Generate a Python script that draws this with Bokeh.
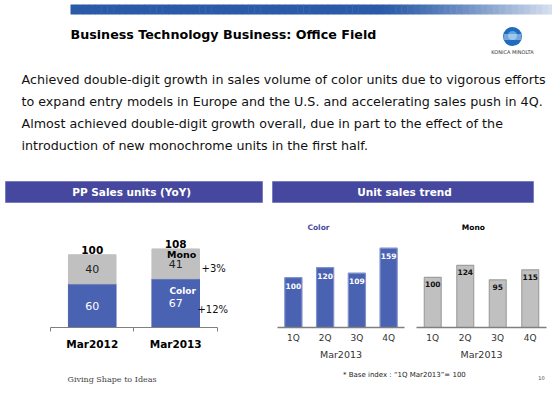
from bokeh.plotting import figure
from bokeh.layouts import column, row
from bokeh.models import (Range1d, FactorRange, ColumnDataSource, LinearAxis,
                          CategoricalAxis, FixedTicker, Label)
from bokeh.core.properties import value
from bokeh.embed import file_html
from bokeh.resources import INLINE

# ---------------- data ----------------
slide_title = "Business Technology Business: Office Field"
summary_lines = [
    "Achieved double-digit growth in sales volume of color units due to vigorous efforts",
    "to expand entry models in Europe and the U.S. and accelerating sales push in 4Q.",
    "Almost achieved double-digit growth overall, due in part to the effect of the",
    "introduction of new monochrome units in the first half.",
]
left_header = "PP  Sales units (YoY)"
right_header = "Unit sales trend"

years = ["Mar2012", "Mar2013"]
color_units = [60, 67]
mono_units = [40, 41]
total_units = [100, 108]
color_growth = "+12%"
mono_growth = "+3%"

quarters = ["1Q", "2Q", "3Q", "4Q"]
period_label = "Mar2013"
color_trend = [100, 120, 109, 159]
mono_trend = [100, 124, 95, 115]

footer_slogan = "Giving Shape to Ideas"
footer_note = "* Base index :  \u201c1Q Mar2013\u201d= 100"
page_number = "10"
logo_text = "KONICA MINOLTA"

# ---------------- styles ----------------
FONT = "DejaVu Sans"
BLUE = "#4A62B2"
GRAY = "#C0C0C0"
HEADER = "#46479E"


def clean(p):
    p.outline_line_color = None
    p.grid.visible = False
    p.background_fill_color = "white"
    p.border_fill_color = "white"
    return p


def txt(p, x, y, s, size, color="#111111", bold=False, align="left", font=FONT, **kw):
    p.text(x=[x], y=[y], text=[s], text_font=value(font), text_font_size=size,
           text_color=color, text_font_style="bold" if bold else "normal",
           text_align=align, text_baseline="middle", **kw)


# ---------------- header (slide text) ----------------
hdr = clean(figure(width=552, height=210, x_range=Range1d(0, 552), y_range=Range1d(210, 0),
                   x_axis_location=None, y_axis_location=None, output_backend="svg",
                   toolbar_location=None, min_border=0))

# gradient top bar
n = 80
x0, x1 = 70.0, 560.0
lefts, rights, cols = [], [], []
c_dark = (0x2B, 0x5B, 0xA8)
c_light = (0xE6, 0xEC, 0xF6)
for i in range(n):
    a = x0 + (x1 - x0) * i / n
    b = x0 + (x1 - x0) * (i + 1) / n
    t = (a - x0) / (x1 - x0)
    f = 0.0 if t < 0.62 else ((t - 0.62) / 0.38) ** 1.3
    c = tuple(int(c_dark[k] + (c_light[k] - c_dark[k]) * f) for k in range(3))
    lefts.append(a); rights.append(b + 0.5); cols.append("#%02x%02x%02x" % c)
hdr.quad(left=lefts, right=rights, top=4, bottom=14, fill_color=cols, line_color=None)

txt(hdr, 70, 34, slide_title, "12.7px", color="#000000", bold=True)

# logo
hdr.scatter(x=[512], y=[36], size=19, fill_color="#1E6BC0", line_color=None)
hdr.scatter(x=[512], y=[35], size=9, fill_color="#5FA3E3", line_color=None)
for dy, hw in [(-1.5, 8.6), (0.5, 8.8), (2.5, 8.4)]:
    hdr.segment(x0=[512 - hw], y0=[36 + dy], x1=[512 + hw], y1=[36 + dy],
                line_color="white", line_width=0.8)
txt(hdr, 512, 51, logo_text, "5px", color="#333333", align="center")

# summary paragraph
for i, line in enumerate(summary_lines):
    txt(hdr, 21, 79 + 22 * i, line, "12.7px", color="#111111")

# section header bars
hdr.quad(left=[5, 272], right=[262, 533], top=181, bottom=202,
         fill_color=HEADER, line_color="#7A7CC0", line_width=1)
txt(hdr, 133, 191.5, left_header, "10.5px", color="white", bold=True, align="center")
txt(hdr, 404, 191.5, right_header, "10.5px", color="white", bold=True, align="center")

# ---------------- left chart: PP sales units ----------------
pos = [i + 0.5 for i in range(len(years))]          # category centres on a numeric scale
src = ColumnDataSource(dict(
    x=pos, color=color_units, mono=mono_units, total=total_units,
    total_str=[str(v) for v in total_units],
    color_str=[str(v) for v in color_units],
    mono_str=[str(v) for v in mono_units],
    color_mid=[c / 2 for c in color_units],
    mono_mid=[c + m / 2 for c, m in zip(color_units, mono_units)],
))

lc = clean(figure(width=272, height=152, x_range=Range1d(0, len(years) + 0.3),
                  y_range=Range1d(0, 160.8), x_axis_location=None, y_axis_location=None,
                  output_backend="svg", toolbar_location=None, min_border=0,
                  min_border_left=50, min_border_right=30, min_border_top=0,
                  min_border_bottom=33))
lc.vbar_stack(["color", "mono"], x="x", width=0.57, source=src,
              fill_color=[BLUE, GRAY], line_color=[BLUE, GRAY])

lc.text(x="x", y="total", text="total_str", source=src, y_offset=-5,
        text_font=value(FONT), text_font_size="10.5px", text_font_style="bold",
        text_color="#000000", text_align="center", text_baseline="middle")
lc.text(x="x", y="mono_mid", text="mono_str", source=src,
        text_font=value(FONT), text_font_size="11px", text_color="#222222",
        text_align="center", text_baseline="middle")
lc.text(x="x", y="color_mid", text="color_str", source=src,
        text_font=value(FONT), text_font_size="11px", text_color="white",
        text_align="center", text_baseline="middle")

last = pos[-1]
lc.text(x=[last], y=[total_units[-1]], text=["Mono"], x_offset=6, y_offset=6,
        text_font=value(FONT), text_font_size="9.5px", text_font_style="bold",
        text_color="#000000", text_align="center", text_baseline="middle")
lc.text(x=[last], y=[color_units[-1]], text=["Color"], x_offset=7, y_offset=12,
        text_font=value(FONT), text_font_size="9px", text_font_style="bold",
        text_color="white", text_align="center", text_baseline="middle")
lc.text(x=[last], y=[color_units[-1] + mono_units[-1] / 2], text=[mono_growth],
        x_offset=38, y_offset=5, text_font=value(FONT), text_font_size="10px",
        text_color="#111111", text_align="center", text_baseline="middle")
lc.text(x=[last], y=[color_units[-1] / 2], text=[color_growth],
        x_offset=37, y_offset=6, text_font=value(FONT), text_font_size="10px",
        text_color="#111111", text_align="center", text_baseline="middle")

cat_axis = LinearAxis(ticker=FixedTicker(ticks=pos, minor_ticks=list(range(len(years) + 1))),
                      bounds=(0, len(years)),
                      major_label_overrides={p_: y_ for p_, y_ in zip(pos, years)},
                      axis_line_color="#7F7F7F", major_tick_line_color=None,
                      major_tick_in=0, major_tick_out=0,
                      minor_tick_line_color="#7F7F7F", minor_tick_in=0, minor_tick_out=4,
                      major_label_text_font=FONT, major_label_text_font_size="10.5px",
                      major_label_text_font_style="bold", major_label_text_color="#000000",
                      major_label_standoff=6)
lc.add_layout(cat_axis, "below")


# ---------------- trend charts ----------------
def trend_chart(width, left, right, bottom, ymax, vals, fill, line, lab_color, lab_off,
                title, title_color, title_x, title_y, bar_w):
    s = ColumnDataSource(dict(q=quarters, v=vals, s=[str(v) for v in vals]))
    p = clean(figure(width=width, height=152, x_range=FactorRange(*quarters, range_padding=0),
                     y_range=Range1d(0, ymax), x_axis_location=None, y_axis_location=None,
                     output_backend="svg", toolbar_location=None, min_border=0,
                     min_border_left=left, min_border_right=right, min_border_top=0,
                     min_border_bottom=bottom))
    p.vbar(x="q", top="v", width=bar_w, source=s, fill_color=fill, line_color=line,
           line_width=1.2)
    p.text(x="q", y="v", text="s", source=s, y_offset=lab_off,
           text_font=value(FONT), text_font_size="7.5px", text_font_style="bold",
           text_color=lab_color, text_align="center", text_baseline="middle")
    p.add_layout(Label(x=title_x, y=title_y, text=title, text_font=FONT,
                       text_font_size="7.5px", text_font_style="bold", text_color=title_color,
                       text_align="center", text_baseline="middle"))
    ax = CategoricalAxis(axis_line_color="#7F7F7F", axis_line_width=1.5,
                         major_tick_line_color=None, major_tick_in=0, major_tick_out=0,
                         major_label_text_font=FONT,
                         major_label_text_font_size="9px", major_label_text_color="#333333",
                         major_label_standoff=5, axis_label=period_label,
                         axis_label_text_font=FONT, axis_label_text_font_size="9.5px",
                         axis_label_text_font_style="normal", axis_label_text_color="#333333",
                         axis_label_standoff=3)
    p.add_layout(ax, "below")
    return p


cc = trend_chart(138, 5, 6, 34, 234.6, color_trend, BLUE, "#7F90CC", "white", 8,
                 "Color", "#4B4BA0", 1.29, 200.8, 0.54)
mc = trend_chart(142, 6, 6, 33, 233.3, mono_trend, GRAY, "#A0A0A0", "#111111", 7,
                 "Mono", "#000000", 1.75, 200.0, 0.52)

# ---------------- footer ----------------
ft = clean(figure(width=552, height=26, x_range=Range1d(0, 552), y_range=Range1d(388, 362),
                  x_axis_location=None, y_axis_location=None, output_backend="svg",
                  toolbar_location=None, min_border=0))
txt(ft, 67, 379, footer_slogan, "8px", color="#444444", font="DejaVu Serif")
txt(ft, 405, 374, footer_note, "7px", color="#222222", align="center")
txt(ft, 541, 377, page_number, "5px", color="#444444", align="center")

layout = column(hdr, row(lc, cc, mc, spacing=0), ft, spacing=0)

open("out.html", "w").write(file_html(layout, INLINE))
